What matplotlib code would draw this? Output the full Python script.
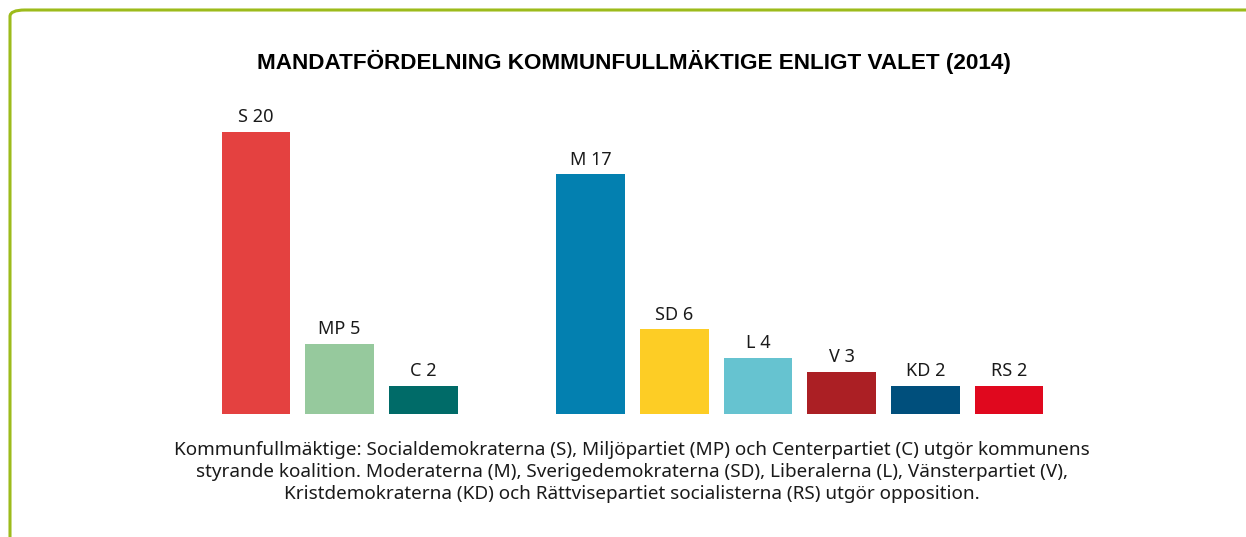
import matplotlib
matplotlib.use('Agg')
from matplotlib import pyplot as plt
from matplotlib.patches import FancyBboxPatch

# mandat per parti, kommunfullmäktige 2014
parties = ['S', 'MP', 'C', 'M', 'SD', 'L', 'V', 'KD', 'RS']
seats = [20, 5, 2, 17, 6, 4, 3, 2, 2]
positions = [0, 1, 2, 4, 5, 6, 7, 8, 9]
colors = ['#e44140', '#96c99d', '#006b68', '#0380b0', '#fdcd25',
          '#66c3d0', '#ab1f24', '#004f7c', '#e0081e']

title = 'MANDATFÖRDELNING KOMMUNFULLMÄKTIGE ENLIGT VALET (2014)'
caption = ('Kommunfullmäktige: Socialdemokraterna (S), Miljöpartiet (MP) och Centerpartiet (C) utgör kommunens\n'
           'styrande koalition. Moderaterna (M), Sverigedemokraterna (SD), Liberalerna (L), Vänsterpartiet (V),\n'
           'Kristdemokraterna (KD) och Rättvisepartiet socialisterna (RS) utgör opposition.')

W, H = 1246, 537
fig = plt.figure(figsize=(W / 100, H / 100), dpi=100)
fig.patch.set_facecolor('white')

# ram runt figuren
frame = FancyBboxPatch((10 / W, -20 / H), 1.2, (H + 10) / H,
                       boxstyle='round,pad=0,rounding_size=0.012',
                       transform=fig.transFigure, fill=False,
                       edgecolor='#9dbb1b', linewidth=2.2)
fig.patches.append(frame)

ax = fig.add_axes([214 / W, 123 / H, 837 / W, 282 / H])
ax.bar(positions, seats, width=0.82, color=colors)
for p, name, s in zip(positions, parties, seats):
    ax.annotate(f'{name} {s}', (p, s), xytext=(0, 4), textcoords='offset points',
                ha='center', va='bottom', fontsize=13, family='Noto Sans',
                color='#1a1a1a')
ax.set_xlim(-0.5, 9.5)
ax.set_ylim(0, 20)
ax.axis('off')

fig.text(634 / W, 1 - 62 / H, title, ha='center', va='center', fontsize=16.2,
         fontweight='bold', family='Liberation Sans', color='black')
fig.text(632 / W, 1 - 472 / H, caption, ha='center', va='center', fontsize=13.6,
         family='Noto Sans', color='#1a1a1a', linespacing=1.32)

fig.savefig('out.png', dpi=100)
